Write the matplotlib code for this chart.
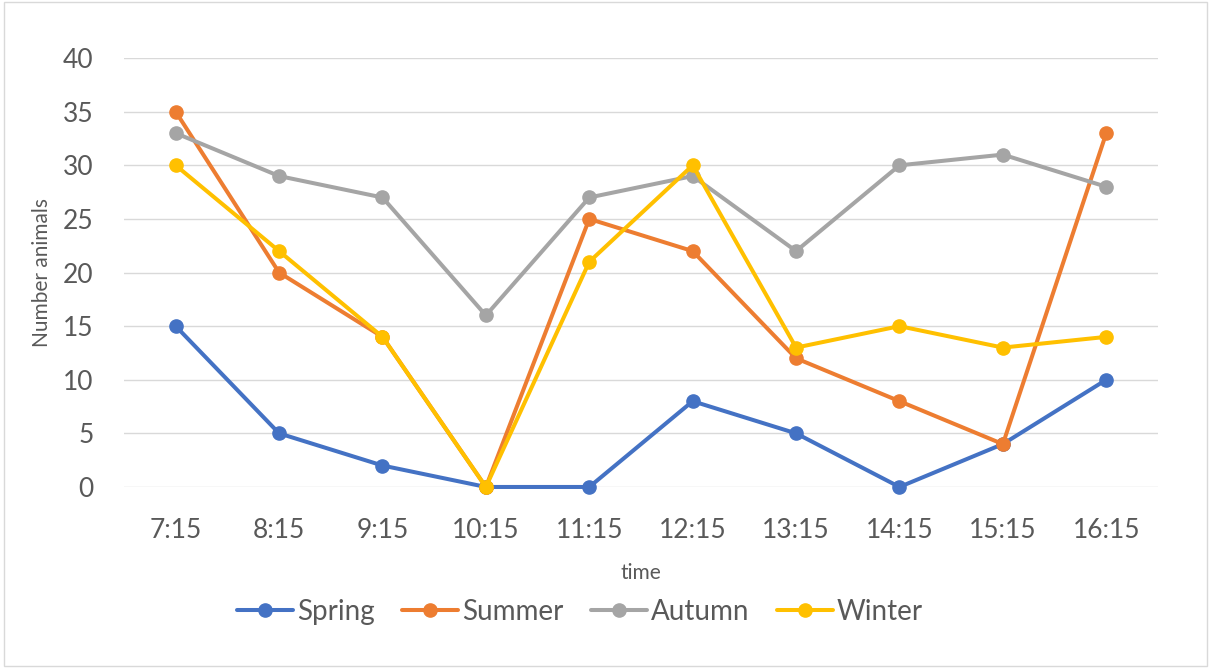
import matplotlib
matplotlib.use("Agg")
import matplotlib.pyplot as plt

times = ["7:15", "8:15", "9:15", "10:15", "11:15", "12:15", "13:15", "14:15", "15:15", "16:15"]
spring = [15, 5, 2, 0, 0, 8, 5, 0, 4, 10]
summer = [35, 20, 14, 0, 25, 22, 12, 8, 4, 33]
autumn = [33, 29, 27, 16, 27, 29, 22, 30, 31, 28]
winter = [30, 22, 14, 0, 21, 30, 13, 15, 13, 14]
series = [("Spring", spring, "#4472C4"), ("Summer", summer, "#ED7D31"),
          ("Autumn", autumn, "#A5A5A5"), ("Winter", winter, "#FFC000")]

plt.rcParams['font.family'] = ['Lato', 'DejaVu Sans']
fig = plt.figure(figsize=(12.11, 6.68), dpi=100)
ax = fig.add_axes([0.1024, 0.271, 0.8538, 0.642])

x = list(range(len(times)))
for name, vals, col in series:
    ax.plot(x, vals, color=col, lw=2.9, marker='o', markersize=9.5, label=name,
            solid_capstyle='round', clip_on=False)

ax.set_xlim(-0.5, len(times) - 0.5)
ax.set_ylim(0, 40)
ax.set_yticks(range(0, 41, 5))
ax.set_xticks(x)
ax.set_xticklabels(times)
ax.grid(axis='y', color='#D9D9D9', lw=1)
ax.set_axisbelow(True)
for s in ax.spines.values():
    s.set_visible(False)
ax.tick_params(length=0, labelsize=19, labelcolor='#595959')
ax.tick_params(axis='x', pad=22)
ax.tick_params(axis='y', pad=22)
ax.set_xlabel("time", fontsize=15, color='#595959', labelpad=15)
ax.set_ylabel("Number animals", fontsize=15, color='#595959', labelpad=8)

leg = ax.legend(loc='center', bbox_to_anchor=(580 / 1211, 1 - 612 / 668), bbox_transform=fig.transFigure,
                ncol=4, frameon=False, fontsize=20, handlelength=2.0, columnspacing=1.0, handletextpad=0.15)
for t in leg.get_texts():
    t.set_color('#595959')

fig.patches.append(plt.Rectangle((0.003, 0.003), 0.994, 0.994, transform=fig.transFigure,
                                 fill=False, edgecolor='#D9D9D9', lw=1))
fig.savefig("out.png", dpi=100)
